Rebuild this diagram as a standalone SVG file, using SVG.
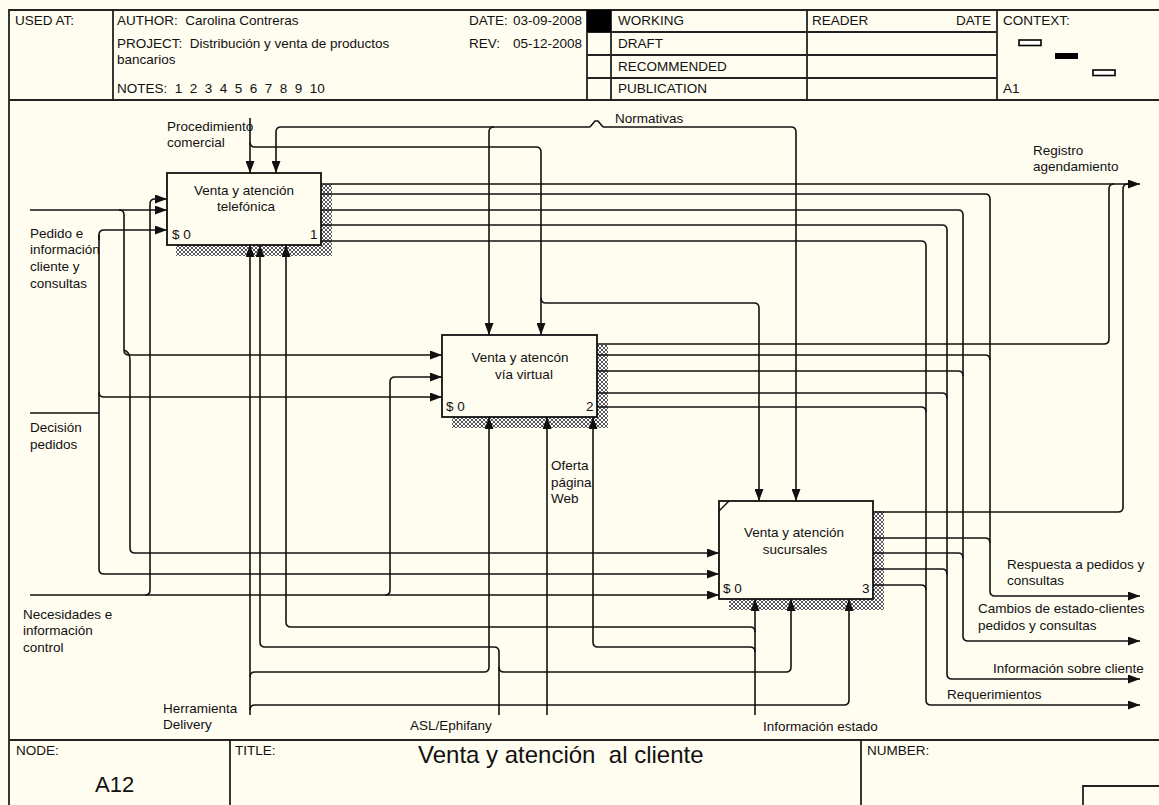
<svg xmlns="http://www.w3.org/2000/svg" width="1159" height="805" viewBox="0 0 1159 805">
<style>
text{font-family:"Liberation Sans",Arial,sans-serif;font-size:13.5px;fill:#111}
.fr{stroke:#222;stroke-width:1.8;fill:none}
.bx{fill:#fffcf0;stroke:#111;stroke-width:1.8}
.sh{fill:url(#hatch)}
.c path{fill:none;stroke:#111;stroke-width:1.6}
.c path.a{marker-end:url(#ah)}
.mid{text-anchor:middle}
</style>
<defs>
<pattern id="hatch" width="4" height="4" patternUnits="userSpaceOnUse">
<rect width="4" height="4" fill="#fff"/>
<path d="M0,0 L4,4 M4,0 L0,4" stroke="#444" stroke-width="0.9"/>
</pattern>
<marker id="ah" markerWidth="12" markerHeight="9" refX="12" refY="4.5" orient="auto" markerUnits="userSpaceOnUse">
<path d="M0,0 L12,4.5 L0,9 z" fill="#111"/>
</marker>
</defs>
<rect width="1159" height="805" fill="#fffcf0"/>
<g id="frame">
<path class="fr" d="M1159,10 H9 V805 M9,100 H1159 M9,740 H1159 M113,10 V100 M587,10 V100 M611,10 V100 M807,10 V100 M997,10 V100 M587,32 H997 M587,55 H997 M587,78 H997 M230,740 V805 M861,740 V805 M1083,805 V786 H1159"/>
<rect x="587" y="10" width="24" height="22" fill="#000"/>
<rect x="1019" y="40" width="22" height="5.5" fill="#fff" stroke="#000" stroke-width="1.6"/>
<rect x="1055" y="53" width="23" height="6" fill="#000"/>
<rect x="1093" y="70" width="22" height="5.5" fill="#fff" stroke="#000" stroke-width="1.6"/>
<text x="15" y="25">USED AT:</text>
<text x="117" y="25" xml:space="preserve">AUTHOR:  Carolina Contreras</text>
<text x="117" y="47.5" xml:space="preserve">PROJECT:  Distribución y venta de productos</text>
<text x="117" y="64">bancarios</text>
<text x="117" y="93" xml:space="preserve">NOTES:  1  2  3  4  5  6  7  8  9  10</text>
<text x="469" y="25">DATE:</text>
<text x="513" y="25">03-09-2008</text>
<text x="469" y="47.5">REV:</text>
<text x="513" y="47.5">05-12-2008</text>
<text x="618" y="25">WORKING</text>
<text x="618" y="48">DRAFT</text>
<text x="618" y="71">RECOMMENDED</text>
<text x="618" y="93">PUBLICATION</text>
<text x="812" y="25">READER</text>
<text x="991" y="25" text-anchor="end">DATE</text>
<text x="1003" y="25">CONTEXT:</text>
<text x="1003" y="93">A1</text>
<text x="16" y="755">NODE:</text>
<text x="235" y="755">TITLE:</text>
<text x="867" y="755">NUMBER:</text>
<text x="95" y="792" style="font-size:22px">A12</text>
<text x="418" y="763" style="font-size:24px" xml:space="preserve">Venta y atención  al cliente</text>
</g>
<g id="node-A121">
<path class="sh" d="M321,184 H332 V256 H176 V245 H321 Z"/>
<rect class="bx" x="167" y="173" width="154" height="72"/>
<text class="mid" x="244" y="195">Venta y atención</text>
<text class="mid" x="246" y="211">telefónica</text>
<text x="172" y="239">$ 0</text>
<text x="310" y="239">1</text>
</g>
<g id="node-A122">
<path class="sh" d="M597,345 H608 V428 H452 V417 H597 Z"/>
<rect class="bx" x="442" y="335" width="155" height="82"/>
<text class="mid" x="520" y="362">Venta y atencón</text>
<text class="mid" x="524" y="379">vía virtual</text>
<text x="446" y="411">$ 0</text>
<text x="586" y="411">2</text>
</g>
<g id="node-A123">
<path class="sh" d="M873,511 H884 V610 H729 V599 H873 Z"/>
<rect class="bx" x="719" y="501" width="154" height="98"/>
<path d="M719,511 L729,501" stroke="#111" stroke-width="1.4"/>
<text class="mid" x="794" y="537">Venta y atención</text>
<text class="mid" x="795" y="554">sucursales</text>
<text x="723" y="593">$ 0</text>
<text x="862" y="593">3</text>
</g>
<g id="connectors" class="c">
<path class="a" d="M250,118 V173"/>
<path class="a" d="M250,142 Q250,147 255,147 H536 Q541,147 541,152 V335"/>
<path class="a" d="M541,298 Q541,303 546,303 H754 Q759,303 759,308 V501"/>
<path class="a" d="M590,127 H281 Q276,127 276,132 V173"/>
<path class="a" d="M603,127 H791 Q796,127 796,132 V501"/>
<path class="a" d="M494,127 Q489,127 489,132 V335"/>
<path d="M590,127 L595,121 L598,121 L603,127"/>
<path class="a" d="M30,210 H167"/>
<path class="a" d="M119,210 Q124,210 124,215 V350 Q124,355 129,355 H442"/>
<path class="a" d="M124,350 Q130,352 130,360 V548 Q130,553 135,553 H719"/>
<path d="M30,413 H99"/>
<path class="a" d="M99,240 V235 Q99,230 104,230 H167"/>
<path class="a" d="M99,235 V569 Q99,574 104,574 H719"/>
<path class="a" d="M99,392 Q99,397 104,397 H442"/>
<path class="a" d="M30,595 H719"/>
<path class="a" d="M145,595 Q150,595 150,590 V204 Q150,199 155,199 H167"/>
<path class="a" d="M385,595 Q390,595 390,590 V382 Q390,377 395,377 H442"/>
<path class="a" d="M250,715 V245"/>
<path class="a" d="M250,677 Q250,672 255,672 H484 Q489,672 489,667 V417"/>
<path class="a" d="M250,710 Q250,705 255,705 H844 Q849,705 849,700 V599"/>
<path class="a" d="M499,715 V652 Q499,647 494,647 H265 Q260,647 260,642 V245"/>
<path class="a" d="M499,667 Q499,672 504,672 H786 Q791,672 791,667 V599"/>
<path class="a" d="M547,715 V417"/>
<path class="a" d="M755,715 V599"/>
<path class="a" d="M755,632 Q755,627 750,627 H291 Q286,627 286,622 V245"/>
<path class="a" d="M755,652 Q755,647 750,647 H598 Q593,647 593,642 V417"/>
<path class="a" d="M321,184 H1140"/>
<path d="M597,344 H1104 Q1109,344 1109,339 V189 Q1109,184 1114,184"/>
<path d="M873,512 H1118 Q1123,512 1123,507 V189 Q1123,184 1128,184"/>
<path class="a" d="M321,194 H985 Q990,194 990,199 V591 Q990,596 995,596 H1140"/>
<path d="M597,355 H985 Q990,355 990,360"/>
<path d="M873,538 H985 Q990,538 990,543"/>
<path class="a" d="M321,210 H958 Q963,210 963,215 V636 Q963,641 968,641 H1140"/>
<path d="M597,371 H958 Q963,371 963,376"/>
<path d="M873,553 H958 Q963,553 963,558"/>
<path class="a" d="M321,225 H942 Q947,225 947,230 V674 Q947,679 952,679 H1140"/>
<path d="M597,393 H942 Q947,393 947,398"/>
<path d="M873,569 H942 Q947,569 947,574"/>
<path class="a" d="M321,241 H921 Q926,241 926,246 V700 Q926,705 931,705 H1140"/>
<path d="M597,407 H921 Q926,407 926,412"/>
<path d="M873,585 H921 Q926,585 926,590"/>
</g>
<g id="labels">
<text x="167" y="131">Procedimiento</text>
<text x="167" y="147">comercial</text>
<text x="615" y="123">Normativas</text>
<text x="1033" y="155">Registro</text>
<text x="1033" y="171">agendamiento</text>
<text x="30" y="238">Pedido e</text>
<text x="30" y="254">información</text>
<text x="30" y="271">cliente y</text>
<text x="30" y="288">consultas</text>
<text x="30" y="432">Decisión</text>
<text x="30" y="449">pedidos</text>
<text x="23" y="619">Necesidades e</text>
<text x="23" y="635">información</text>
<text x="23" y="652">control</text>
<text x="163" y="713">Herramienta</text>
<text x="163" y="729">Delivery</text>
<text x="410" y="730">ASL/Ephifany</text>
<text x="551" y="470">Oferta</text>
<text x="551" y="487">página</text>
<text x="551" y="503">Web</text>
<text x="763" y="731">Información estado</text>
<text x="1007" y="569">Respuesta a pedidos y</text>
<text x="1007" y="585">consultas</text>
<text x="978" y="613">Cambios de estado-clientes</text>
<text x="978" y="630">pedidos y consultas</text>
<text x="993" y="673">Información sobre cliente</text>
<text x="947" y="699">Requerimientos</text>
</g>
</svg>
